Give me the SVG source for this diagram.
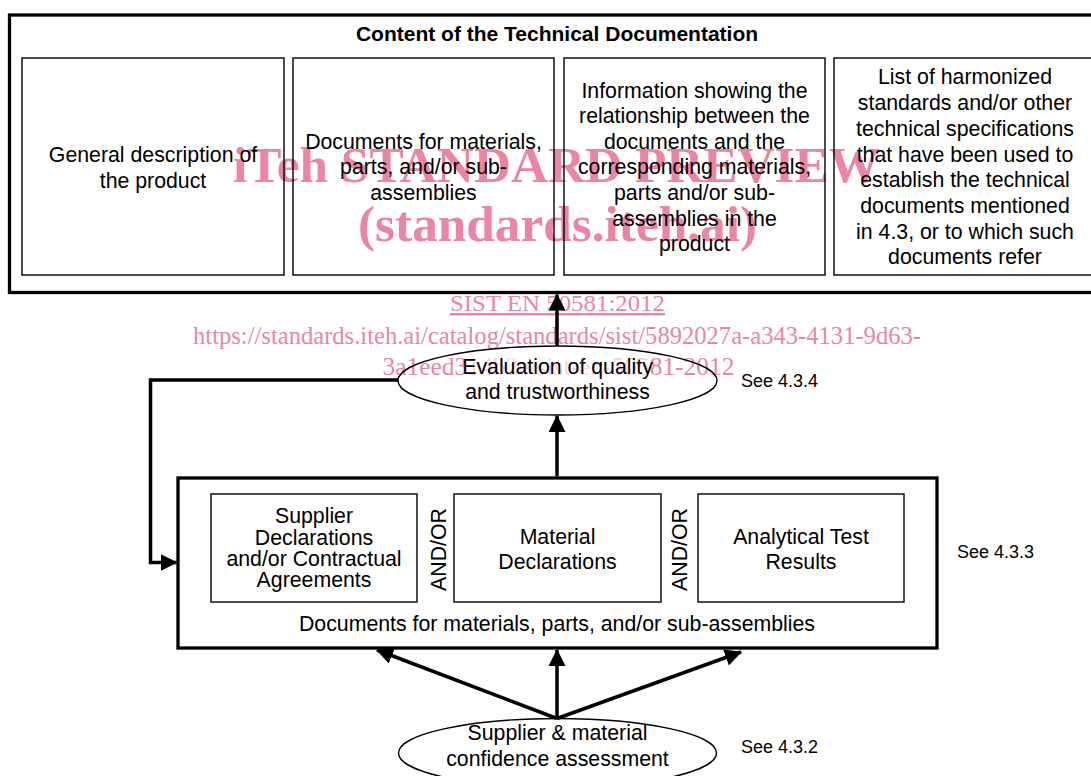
<svg xmlns="http://www.w3.org/2000/svg" width="1091" height="776" viewBox="0 0 1091 776">
<style>
.t{font-family:"Liberation Sans",Arial,sans-serif;font-size:21.3px;fill:#000;text-anchor:middle}
.b{font-weight:bold;font-size:21px}
.s{font-family:"Liberation Sans",Arial,sans-serif;font-size:18px;fill:#000}
.thick{fill:none;stroke:#000;stroke-width:3.3}
.thin{fill:none;stroke:#000;stroke-width:1.4}
.ell{fill:none;stroke:#000;stroke-width:1.4}
.con{fill:none;stroke:#000;stroke-width:3.5}
.wm{font-family:"Liberation Serif","Times New Roman",serif;fill:#ec84a4;text-anchor:middle}
</style>
<defs>
<marker id="ah" markerUnits="userSpaceOnUse" markerWidth="18" markerHeight="18" refX="16" refY="8.5" orient="auto">
<path d="M0,0 L17,8.5 L0,17 Z" fill="#000"/>
</marker>
</defs>
<rect width="1091" height="776" fill="#fff"/>

<g id="watermark">
<text class="wm" x="556.5" y="182" font-size="50" font-weight="bold" textLength="647" lengthAdjust="spacingAndGlyphs">iTeh STANDARD PREVIEW</text>
<text class="wm" x="557.5" y="241" font-size="50" font-weight="bold" textLength="399" lengthAdjust="spacingAndGlyphs">(standards.iteh.ai)</text>
<text class="wm" x="557.5" y="311" font-size="23.5" text-decoration="underline" textLength="215" lengthAdjust="spacingAndGlyphs">SIST EN 50581:2012</text>
<text class="wm" x="557" y="343.5" font-size="24.5" textLength="728" lengthAdjust="spacingAndGlyphs">https://standards.iteh.ai/catalog/standards/sist/5892027a-a343-4131-9d63-</text>
<text class="wm" x="558.5" y="375" font-size="24.5" textLength="352" lengthAdjust="spacingAndGlyphs">3a1eed3<tspan fill-opacity="0.35">14b2e/sist-en-505</tspan>81-2012</text>
</g>

<g id="content">
<rect class="thick" x="9.5" y="15" width="1095" height="277.5"/>
<text class="t b" x="557" y="41">Content of the Technical Documentation</text>
</g>

<g id="general">
<rect class="thin" x="22" y="58" width="262" height="217"/>
<text class="t" x="153" y="162">General description of</text>
<text class="t" x="153" y="188">the product</text>
</g>

<g id="docs">
<rect class="thin" x="293" y="58" width="261" height="217"/>
<text class="t" x="423.5" y="148.5">Documents for materials,</text>
<text class="t" x="423.5" y="174">parts, and/or sub-</text>
<text class="t" x="423.5" y="199.5">assemblies</text>
</g>

<g id="info">
<rect class="thin" x="564" y="58" width="261" height="217"/>
<text class="t" x="694.5" y="97.5">Information showing the</text>
<text class="t" x="694.5" y="123">relationship between the</text>
<text class="t" x="694.5" y="148.5">documents and the</text>
<text class="t" x="694.5" y="174">corresponding materials,</text>
<text class="t" x="694.5" y="200">parts and/or sub-</text>
<text class="t" x="694.5" y="225.5">assemblies in the</text>
<text class="t" x="694.5" y="251">product</text>
</g>

<g id="list">
<rect class="thin" x="834" y="58" width="262" height="217"/>
<text class="t" x="965" y="83.5">List of harmonized</text>
<text class="t" x="965" y="109.5">standards and/or other</text>
<text class="t" x="965" y="135.5">technical specifications</text>
<text class="t" x="965" y="161.5">that have been used to</text>
<text class="t" x="965" y="187">establish the technical</text>
<text class="t" x="965" y="212.5">documents mentioned</text>
<text class="t" x="965" y="238.5">in 4.3, or to which such</text>
<text class="t" x="965" y="264">documents refer</text>
</g>

<g id="evaluation">
<ellipse class="ell" cx="557.5" cy="380.5" rx="159.5" ry="34.5"/>
<text class="t" x="557.5" y="374">Evaluation of quality</text>
<text class="t" x="557.5" y="399">and trustworthiness</text>
<text class="s" x="741" y="387">See 4.3.4</text>
</g>

<g id="documents">
<rect class="thick" x="178" y="478" width="759" height="170"/>
<text class="t" x="557" y="631">Documents for materials, parts, and/or sub-assemblies</text>
<text class="s" x="957" y="558">See 4.3.3</text>
</g>

<g id="supplier-decl">
<rect class="thin" x="211" y="494" width="206" height="108"/>
<text class="t" x="314" y="523">Supplier</text>
<text class="t" x="314" y="544.5">Declarations</text>
<text class="t" x="314" y="565.5">and/or Contractual</text>
<text class="t" x="314" y="586.5">Agreements</text>
</g>

<g id="andor1">
<text class="t" transform="translate(445.5,549.5) rotate(-90)" x="0" y="0">AND/OR</text>
</g>

<g id="material-decl">
<rect class="thin" x="454" y="494" width="207" height="108"/>
<text class="t" x="557.5" y="543.5">Material</text>
<text class="t" x="557.5" y="569">Declarations</text>
</g>

<g id="andor2">
<text class="t" transform="translate(687,549.5) rotate(-90)" x="0" y="0">AND/OR</text>
</g>

<g id="analytical">
<rect class="thin" x="698" y="494" width="206" height="108"/>
<text class="t" x="801" y="543.5">Analytical Test</text>
<text class="t" x="801" y="569">Results</text>
</g>

<g id="assessment">
<ellipse class="ell" cx="557.5" cy="753" rx="159" ry="34.5"/>
<text class="t" x="557.5" y="740">Supplier &amp; material</text>
<text class="t" x="557.5" y="766">confidence assessment</text>
<text class="s" x="741" y="753">See 4.3.2</text>
</g>

<g id="connectors">
<line class="con" x1="557" y1="346" x2="557" y2="294.5" marker-end="url(#ah)"/>
<line class="con" x1="557" y1="476.5" x2="557" y2="416" marker-end="url(#ah)"/>
<path class="con" d="M398,380 H150.5 V562.5 H176.5" marker-end="url(#ah)"/>
<line class="con" x1="557" y1="718.5" x2="557" y2="650" marker-end="url(#ah)"/>
<line class="con" x1="557" y1="718.5" x2="377" y2="650" marker-end="url(#ah)"/>
<line class="con" x1="557" y1="718.5" x2="741" y2="652" marker-end="url(#ah)"/>
</g>
</svg>
